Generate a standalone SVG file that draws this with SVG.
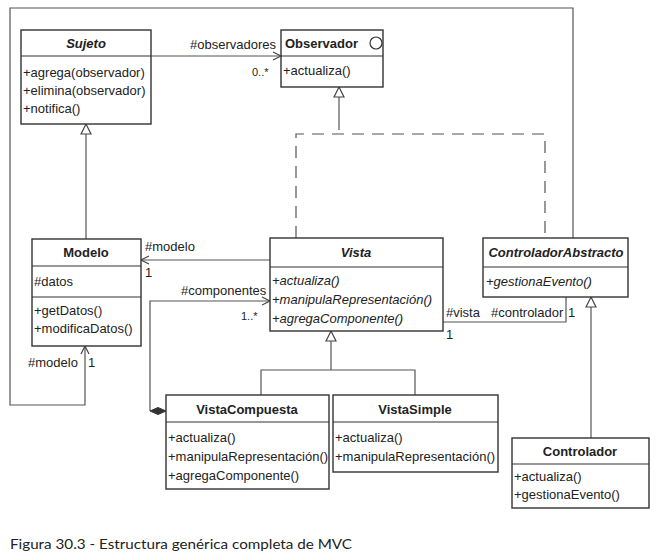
<svg xmlns="http://www.w3.org/2000/svg" width="663" height="560" viewBox="0 0 663 560">
<defs>
<style>
.box{fill:#fff;stroke:#333;stroke-width:1.4}
.sep{stroke:#333;stroke-width:1.2}
.t{font-family:"Liberation Sans",Arial,sans-serif;font-size:13px;fill:#222}
.b{font-weight:bold;text-anchor:middle}
.i{font-style:italic}
.c{fill:none;stroke:#555;stroke-width:1.2}
.d{stroke-dasharray:12,8}
</style>
<marker id="open" markerUnits="userSpaceOnUse" markerWidth="12" markerHeight="12" refX="8" refY="4" orient="auto" viewBox="-1 -1 12 12">
<path d="M0,0 L8,4 L0,8" fill="none" stroke="#444" stroke-width="1.2"/>
</marker>
<marker id="tri" markerUnits="userSpaceOnUse" markerWidth="14" markerHeight="14" refX="10" refY="5" orient="auto" viewBox="-1 -1 14 14">
<path d="M0,0 L10,5 L0,10 Z" fill="#fff" stroke="#444" stroke-width="1.2"/>
</marker>
</defs>
<rect width="663" height="560" fill="#fff"/>

<g id="connectors">
<!-- Sujeto -> Observador -->
<line class="c" x1="151" y1="56" x2="281" y2="56" marker-end="url(#open)"/>
<text class="t" x="190" y="49">#observadores</text>
<text class="t" x="252" y="76" style="font-size:11px">0..*</text>
<!-- Modelo generalizes Sujeto -->
<line class="c" x1="86" y1="239" x2="86" y2="124" marker-end="url(#tri)"/>
<!-- realization to Observador -->
<polyline class="c d" points="296,238 296,134 545,134 545,238"/>
<line class="c" x1="339" y1="130" x2="339" y2="87" marker-end="url(#tri)"/>
<!-- Controlador -> Modelo frame -->
<polyline class="c" points="573,238 573,8 10,8 10,405 85,405 85,346" marker-end="url(#open)"/>
<text class="t" x="28" y="367">#modelo</text>
<text class="t" x="88" y="367">1</text>
<!-- Vista -> Modelo -->
<line class="c" x1="270" y1="260" x2="141" y2="260" marker-end="url(#open)"/>
<text class="t" x="145" y="251">#modelo</text>
<text class="t" x="145" y="277">1</text>
<!-- composition -->
<polyline class="c" points="150,411 150,301 270,301" marker-end="url(#open)"/>
<polygon points="150,411 158,407.5 166,411 158,414.5" fill="#333" stroke="#333" stroke-width="1"/>
<text class="t" x="181" y="295">#componentes</text>
<text class="t" x="241" y="320" style="font-size:11px">1..*</text>
<!-- Vista - Controlador -->
<polyline class="c" points="443,322 566,322 566,297"/>
<text class="t" x="446" y="317">#vista</text>
<text class="t" x="491" y="317">#controlador</text>
<text class="t" x="568" y="317">1</text>
<text class="t" x="446" y="339">1</text>
<!-- Vista generalization -->
<polyline class="c" points="261,395 261,370 415,370 415,395"/>
<line class="c" x1="331" y1="370" x2="331" y2="331" marker-end="url(#tri)"/>
<!-- Controlador generalization -->
<line class="c" x1="591" y1="438" x2="591" y2="297" marker-end="url(#tri)"/>
</g>

<g id="Sujeto">
<rect class="box" x="21" y="30" width="130" height="94"/>
<line class="sep" x1="21" y1="56" x2="151" y2="56"/>
<text class="t b i" x="86" y="48">Sujeto</text>
<text class="t" x="23" y="77">+agrega(observador)</text>
<text class="t" x="23" y="95">+elimina(observador)</text>
<text class="t" x="23" y="113">+notifica()</text>
</g>

<g id="Observador">
<rect class="box" x="281" y="30" width="102" height="57"/>
<line class="sep" x1="281" y1="56" x2="383" y2="56"/>
<text class="t" x="285" y="48" style="font-weight:bold">Observador</text>
<circle cx="376" cy="43" r="6" fill="#fff" stroke="#333" stroke-width="1.2"/>
<text class="t" x="283" y="75">+actualiza()</text>
</g>

<g id="Modelo">
<rect class="box" x="32" y="239" width="109" height="107"/>
<line class="sep" x1="32" y1="266" x2="141" y2="266"/>
<line class="sep" x1="32" y1="297" x2="141" y2="297"/>
<text class="t b" x="86" y="257">Modelo</text>
<text class="t" x="34" y="286">#datos</text>
<text class="t" x="34" y="315">+getDatos()</text>
<text class="t" x="34" y="333">+modificaDatos()</text>
</g>

<g id="Vista">
<rect class="box" x="270" y="238" width="173" height="93"/>
<line class="sep" x1="270" y1="267" x2="443" y2="267"/>
<text class="t b i" x="356" y="257">Vista</text>
<text class="t i" x="272" y="285">+actualiza()</text>
<text class="t i" x="272" y="304">+manipulaRepresentación()</text>
<text class="t i" x="272" y="323">+agregaComponente()</text>
</g>

<g id="ControladorAbstracto">
<rect class="box" x="483" y="238" width="145" height="59"/>
<line class="sep" x1="483" y1="267" x2="628" y2="267"/>
<text class="t b i" x="556" y="257">ControladorAbstracto</text>
<text class="t i" x="486" y="286">+gestionaEvento()</text>
</g>

<g id="VistaCompuesta">
<rect class="box" x="166" y="395" width="163" height="94"/>
<line class="sep" x1="166" y1="422" x2="329" y2="422"/>
<text class="t b" x="247" y="414">VistaCompuesta</text>
<text class="t" x="168" y="442">+actualiza()</text>
<text class="t" x="168" y="461">+manipulaRepresentación()</text>
<text class="t" x="168" y="480">+agregaComponente()</text>
</g>

<g id="VistaSimple">
<rect class="box" x="333" y="395" width="165" height="77"/>
<line class="sep" x1="333" y1="422" x2="498" y2="422"/>
<text class="t b" x="415" y="414">VistaSimple</text>
<text class="t" x="335" y="442">+actualiza()</text>
<text class="t" x="335" y="461">+manipulaRepresentación()</text>
</g>

<g id="Controlador">
<rect class="box" x="512" y="438" width="137" height="70"/>
<line class="sep" x1="512" y1="464" x2="649" y2="464"/>
<text class="t b" x="580" y="456">Controlador</text>
<text class="t" x="514" y="481">+actualiza()</text>
<text class="t" x="514" y="499">+gestionaEvento()</text>
</g>

<text x="10" y="549" font-family="Lato,'Open Sans',sans-serif" font-size="14" fill="#222" textLength="342" lengthAdjust="spacingAndGlyphs">Figura 30.3 - Estructura genérica completa de MVC</text>
</svg>
